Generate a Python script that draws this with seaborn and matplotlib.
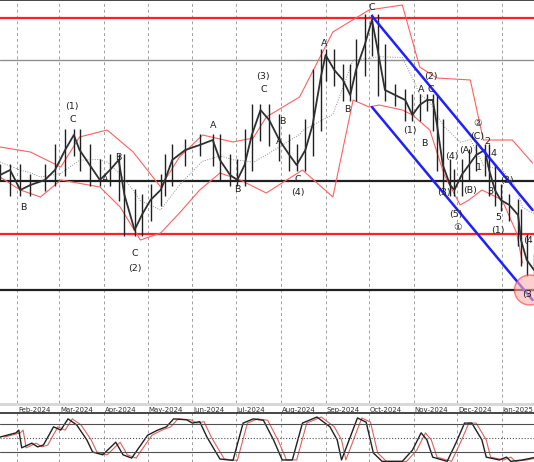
import matplotlib
matplotlib.use("Agg")
import matplotlib.pyplot as plt
import matplotlib.dates as mdates
import matplotlib.transforms as mtrans
from matplotlib.patches import Ellipse
import numpy as np
import pandas as pd
import seaborn as sns

START = pd.Timestamp("2024-02-01")

# price path, days since 2024-02-01
price_days = [-12, -5, 2, 9, 19, 26, 33, 39, 43, 50, 57, 64, 70, 74, 81, 86, 92, 99, 102, 107,
              116, 126, 135, 140, 147, 152, 157, 162, 168, 174, 181, 188, 193, 199, 204, 210, 213, 219, 225, 230,
              234, 240, 245, 249, 254, 261, 268, 273, 278, 283, 287, 290, 294, 299, 302, 307, 312, 317, 323, 326,
              330, 334, 340, 346, 348, 352, 357]
price_close = [225, 230, 210, 215, 220, 230, 250, 265, 250, 235, 220, 230, 240, 205, 170, 185, 200, 210, 220, 240,
               250, 255, 260, 240, 225, 220, 235, 265, 290, 280, 260, 245, 235, 250, 275, 325, 345, 330, 320, 305,
               330, 355, 380, 350, 310, 305, 300, 285, 295, 300, 300, 275, 235, 215, 210, 225, 235, 245, 250, 230,
               210, 200, 195, 185, 160, 140, 130]

upper_days = [-12, 9, 30, 43, 62, 80, 99, 112, 128, 149, 163, 172, 195, 218, 243, 266, 278, 290, 313, 322, 342, 356]
upper_band = [253, 248, 233, 263, 270, 248, 213, 243, 265, 258, 262, 283, 303, 368, 390, 395, 333, 322, 320, 260, 260, 237]
lower_days = [-12, 2, 16, 30, 57, 71, 85, 99, 112, 126, 140, 154, 172, 197, 218, 232, 243, 250, 266, 273,
              285, 295, 306, 312, 321, 335, 345, 349]
lower_band = [223, 210, 203, 220, 213, 193, 160, 167, 187, 210, 227, 220, 207, 230, 203, 300, 293, 295, 290, 285,
              270, 225, 195, 200, 210, 200, 167, 137]

osc_days = [-12, -1, 1, 3, 10, 14, 18, 25, 30, 35, 41, 48, 52, 59, 68, 73, 79, 90, 97, 103,
            108, 117, 121, 126, 131, 135, 140, 149, 156, 163, 170, 177, 183, 190, 197, 207, 216, 221, 224, 230,
            235, 241, 246, 252, 266, 273, 279, 283, 287, 297, 303, 309, 314, 321, 324, 333, 338, 341, 349, 357]
osc_values = [52, 61, 67, 29, 39, 31, 35, 74, 67, 91, 78, 46, 20, 14, 41, 14, 7, 56, 67, 74,
              91, 89, 82, 85, 52, 31, 5, 2, 82, 91, 88, 46, 3, 3, 82, 95, 74, 46, 3, 52,
              93, 84, 18, 0, 0, 24, 61, 46, 9, 0, 39, 82, 82, 46, 9, 3, 9, 0, 3, 8]

levels = [(382, "#ff2020", 1.6), (340, "#909090", 1.0), (219, "#202020", 1.6), (166, "#ff2020", 1.6), (110, "#202020", 1.6)]
channel_days = [245, 356]
channel_upper = [384, 190]
channel_lower = [293, 100]

wave_labels = [
    ("B", 4, 192), ("(1)", 38, 293), ("C", 38, 280), ("A", 61, 220), ("B", 70, 242),
    ("C", 81, 147), ("(2)", 81, 132), ("A", 135, 274), ("B", 152, 210),
    ("(3)", 170, 323), ("C", 170, 310), ("A", 181, 258), ("B", 183, 278), ("C", 194, 220), ("(4)", 194, 207),
    ("A", 212, 356), ("B", 228, 290), ("C", 245, 392),
    ("(1)", 271, 270), ("A", 279, 310), ("C", 286, 310), ("(2)", 286, 323), ("B", 281, 257),
    ("(4)", 300, 243), ("(3)", 295, 207), ("(B)", 313, 210), ("(5)", 303, 185), ("①", 304, 172),
    ("(A)", 310, 250), ("②", 318, 276), ("(C)", 318, 264), ("2", 325, 259), ("4", 329, 246),
    ("1", 319, 233), ("3", 327, 208), ("(3)", 338, 220), ("5", 332, 183), ("(1)", 332, 169),
    ("(4", 353, 159), ("(3", 352, 105),
]
months = pd.date_range("2024-02-01", "2025-01-01", freq="MS")


def to_dates(days):
    return START + pd.to_timedelta(days, unit="D")


sns.set_theme(style="white")
plt.rcParams["font.family"] = ["DejaVu Sans"]
fig = plt.figure(figsize=(5.34, 4.62), dpi=100)
osc = fig.add_axes([0, 0, 1, 49 / 462])
ax = fig.add_axes([0, 59 / 462, 1, 403 / 462])
osc.patch.set_alpha(0)
fig.patches.append(plt.Rectangle((0, 56 / 462), 1, 3 / 462, transform=fig.transFigure,
                                 facecolor="#d8d8d8", edgecolor="none"))

x_price = to_dates(price_days)
for axis in (ax, osc):
    for m in months:
        axis.axvline(m, color="#a0a0a0", lw=0.7, ls=(0, (3, 3)), zorder=0)

for value, color, lw in levels:
    ax.axhline(value, color=color, lw=lw, zorder=1)

# bollinger bands
ax.plot(to_dates(upper_days), upper_band, color="#ff6060", lw=0.8, zorder=2)
ax.plot(to_dates(lower_days), lower_band, color="#ff6060", lw=0.8, zorder=2)
grid = np.arange(-12, 358)
mid = (np.interp(grid, upper_days, upper_band) + np.interp(grid, lower_days, lower_band)) / 2
ax.plot(to_dates(grid), mid, color="#909090", lw=0.7, ls=(0, (1, 1.5)), zorder=2)

# bars
close = np.array(price_close)
for i, d in enumerate(x_price):
    lo = min(close[max(i - 1, 0)], close[i], close[min(i + 1, len(close) - 1)]) - 6
    hi = max(close[max(i - 1, 0)], close[i], close[min(i + 1, len(close) - 1)]) + 6
    ax.vlines(d, lo, hi, color="#202020", lw=1.0, zorder=3)
ax.plot(x_price, close, color="#303030", lw=1.3, zorder=3)

ax.plot(to_dates(channel_days), channel_upper, color="#2020ff", lw=1.8, zorder=4)
ax.plot(to_dates(channel_days), channel_lower, color="#2020ff", lw=1.8, zorder=4)
ax.add_patch(Ellipse((mdates.date2num(to_dates([354])[0]), 110), 21, 30,
                     facecolor="#ffb0b0", edgecolor="#ff3030", alpha=0.6, lw=1.0, zorder=5))

for text, d, v in wave_labels:
    ax.text(to_dates([d])[0], v, text, fontsize=6.8, color="#202020", ha="center", va="center", zorder=6)

ax.set_xlim(to_dates([-12])[0], to_dates([357])[0])
ax.set_ylim(-3, 400)
trans = mtrans.blended_transform_factory(ax.transData, fig.transFigure)
for m in months:
    ax.text(m + pd.Timedelta(days=0.5), 55 / 462, m.strftime("%b-%Y"), transform=trans,
            fontsize=5.0, color="#303030", va="top", ha="left", clip_on=False, zorder=10)

x_osc = to_dates(osc_days)
osc.plot(x_osc + pd.Timedelta(days=3), osc_values, color="#e06060", lw=0.8)
osc.plot(x_osc, osc_values, color="#202020", lw=1.0)
for value, style in [(80, "-"), (50, ":"), (20, "-")]:
    osc.axhline(value, color="#505050", lw=0.8, ls=style)
osc.set_xlim(ax.get_xlim())
osc.set_ylim(-1.4, 103.6)

for axis in (ax, osc):
    axis.set_xticks([])
    axis.set_yticks([])
    for side in ("left", "right", "bottom"):
        axis.spines[side].set_visible(False)
    axis.spines["top"].set_color("#303030")

fig.savefig("out.png", dpi=100)
